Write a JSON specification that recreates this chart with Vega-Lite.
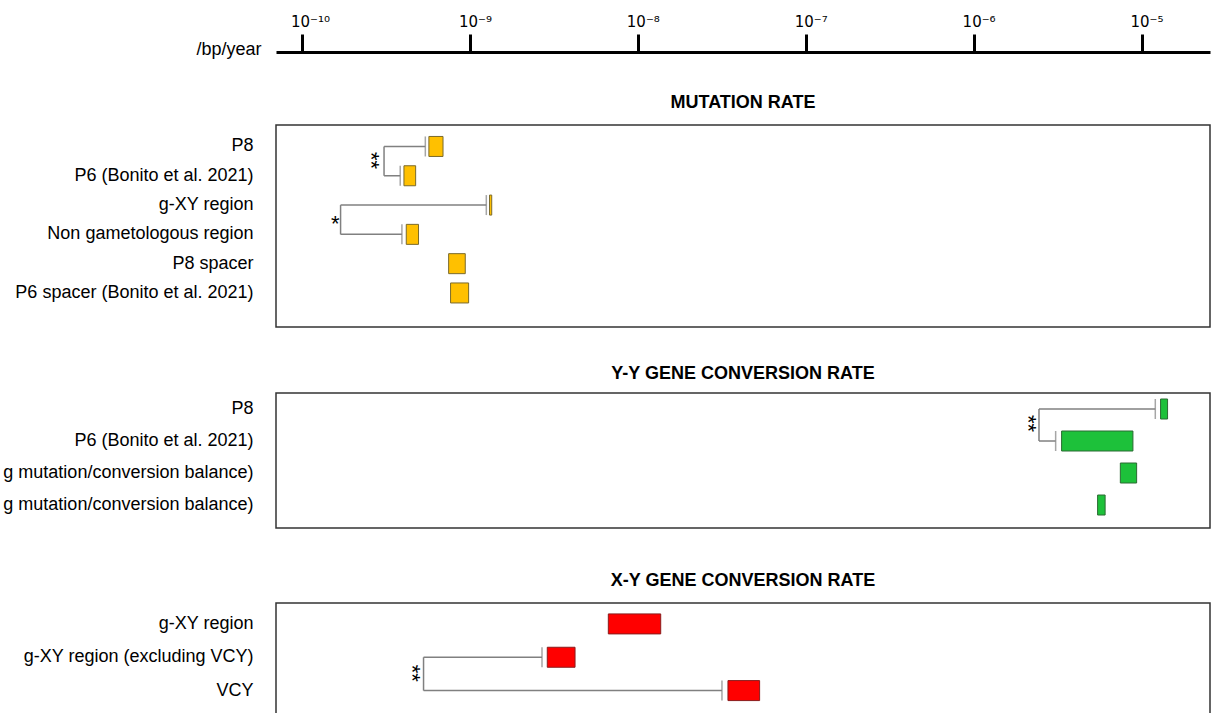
{
  "$schema": "https://vega.github.io/schema/vega-lite/v6.json",
  "autosize": {"type": "pad"},
  "padding": {"left": 2, "top": 14, "right": 0, "bottom": -16},
  "background": "white",
  "bounds": "flush",
  "spacing": 66,
  "config": {
    "font": "Liberation Sans",
    "view": {"stroke": "#333333", "strokeWidth": 1.5},
    "axisY": {"domain": false, "ticks": false, "tickSize": 0, "labelPadding": 23, "labelFontSize": 18, "labelColor": "black", "labelLimit": 500, "labelFont": "Liberation Sans", "grid": false},
    "title": {"fontSize": 18, "fontWeight": "bold", "font": "Liberation Sans", "color": "black", "anchor": "middle", "frame": "group", "baseline": "alphabetic"}
  },
  "datasets": {
    "decades": [{"rate": 1e-10}, {"rate": 1e-9}, {"rate": 1e-8}, {"rate": 1e-7}, {"rate": 1e-6}, {"rate": 1e-5}],
    "mut_bars": [
      {"label": "P8", "lo": 5.66e-10, "hi": 6.87e-10},
      {"label": "P6 (Bonito et al. 2021)", "lo": 4.02e-10, "hi": 4.72e-10},
      {"label": "g-XY region", "lo": 1.30e-9, "hi": 1.34e-9},
      {"label": "Non gametologous region", "lo": 4.15e-10, "hi": 4.91e-10},
      {"label": "P8 spacer", "lo": 7.42e-10, "hi": 9.32e-10},
      {"label": "P6 spacer (Bonito et al. 2021)", "lo": 7.62e-10, "hi": 9.76e-10}
    ],
    "mut_h": [
      {"label": "P8", "from": 3.06e-10, "to": 5.39e-10},
      {"label": "P6 (Bonito et al. 2021)", "from": 3.06e-10, "to": 3.82e-10},
      {"label": "g-XY region", "from": 1.686e-10, "to": 1.244e-9},
      {"label": "Non gametologous region", "from": 1.686e-10, "to": 3.91e-10}
    ],
    "mut_v": [
      {"a": "P8", "b": "P6 (Bonito et al. 2021)", "xv": 3.06e-10},
      {"a": "g-XY region", "b": "Non gametologous region", "xv": 1.686e-10}
    ],
    "mut_star": [
      {"label": "P8", "xv": 2.55e-10, "star": "**"},
      {"label": "g-XY region", "xv": 1.568e-10, "star": "*"}
    ],
    "yy_bars": [
      {"label": "P8", "lo": 1.29e-5, "hi": 1.42e-5},
      {"label": "P6 (Bonito et al. 2021)", "lo": 3.32e-6, "hi": 8.83e-6},
      {"label": "g mutation/conversion balance)", "lo": 7.43e-6, "hi": 9.29e-6},
      {"label": "g mutation/conversion balance)\u200b", "lo": 5.44e-6, "hi": 6.03e-6}
    ],
    "yy_h": [
      {"label": "P8", "from": 2.435e-6, "to": 1.2e-5},
      {"label": "P6 (Bonito et al. 2021)", "from": 2.435e-6, "to": 3.06e-6}
    ],
    "yy_v": [{"a": "P8", "b": "P6 (Bonito et al. 2021)", "xv": 2.435e-6}],
    "yy_star": [{"label": "P8", "xv": 2.08e-6, "star": "**"}],
    "xy_bars": [
      {"label": "g-XY region", "lo": 6.63e-9, "hi": 1.36e-8},
      {"label": "g-XY region (excluding VCY)", "lo": 2.87e-9, "hi": 4.20e-9},
      {"label": "VCY", "lo": 3.42e-8, "hi": 5.28e-8}
    ],
    "xy_h": [
      {"label": "g-XY region (excluding VCY)", "from": 5.26e-10, "to": 2.67e-9},
      {"label": "VCY", "from": 5.26e-10, "to": 3.15e-8}
    ],
    "xy_v": [{"a": "g-XY region (excluding VCY)", "b": "VCY", "xv": 5.26e-10}],
    "xy_star": [{"label": "g-XY region (excluding VCY)", "xv": 4.5e-10, "star": "**"}]
  },
  "vconcat": [
    {
      "width": 934,
      "height": 7,
      "view": {"stroke": null},
      "data": {"name": "decades"},
      "mark": {"type": "point", "opacity": 0},
      "encoding": {
        "x": {
          "field": "rate", "type": "quantitative",
          "scale": {"type": "log", "domain": [6.954e-11, 2.541e-5], "nice": false},
          "axis": {
            "orient": "top", "values": [1e-10, 1e-9, 1e-8, 1e-7, 1e-6, 1e-5],
            "domainWidth": 3, "domainColor": "black", "domainCap": "butt",
            "tickWidth": 3, "tickColor": "black", "tickSize": 18, "tickCap": "butt",
            "labelPadding": 5, "labelFontSize": 15, "labelFont": "DejaVu Sans", "labelColor": "black",
            "labelAlign": "left", "labelOffset": -12,
            "labelFlush": false, "labelOverlap": false, "grid": false,
            "labelExpr": "datum.value < 3e-10 ? '10⁻¹⁰' : datum.value < 3e-9 ? '10⁻⁹' : datum.value < 3e-8 ? '10⁻⁸' : datum.value < 3e-7 ? '10⁻⁷' : datum.value < 3e-6 ? '10⁻⁶' : '10⁻⁵'",
            "title": "/bp/year", "titleX": -15, "titleY": -3, "titleAlign": "right", "titleBaseline": "middle",
            "titleAngle": 0, "titleFontSize": 18, "titleFontWeight": "normal", "titleColor": "black", "titleFont": "Liberation Sans"
          }
        }
      }
    },
    {
      "width": 934,
      "height": 202,
      "title": {"text": "MUTATION RATE", "offset": 13},
      "layer": [
        {
          "data": {"name": "mut_h"},
          "mark": {"type": "rule", "color": "#808080", "strokeWidth": 1.5},
          "encoding": {
            "x": {"field": "from", "type": "quantitative", "scale": {"type": "log", "domain": [6.954e-11, 2.541e-5], "nice": false}, "axis": null},
            "x2": {"field": "to"},
            "y": {"field": "label", "type": "nominal", "title": null, "sort": null, "scale": {"type": "band", "domain": ["P8", "P6 (Bonito et al. 2021)", "g-XY region", "Non gametologous region", "P8 spacer", "P6 spacer (Bonito et al. 2021)"], "paddingInner": 0, "paddingOuter": 0.447, "align": 0.26}}
          }
        },
        {
          "data": {"name": "mut_h"},
          "mark": {"type": "tick", "orient": "vertical", "color": "#808080", "thickness": 1.5, "size": 20},
          "encoding": {
            "x": {"field": "to", "type": "quantitative", "axis": null},
            "y": {"field": "label", "type": "nominal", "title": null}
          }
        },
        {
          "data": {"name": "mut_v"},
          "mark": {"type": "rule", "color": "#808080", "strokeWidth": 1.5},
          "encoding": {
            "x": {"field": "xv", "type": "quantitative", "axis": null},
            "y": {"field": "a", "type": "nominal", "title": null},
            "y2": {"field": "b"}
          }
        },
        {
          "data": {"name": "mut_bars"},
          "mark": {"type": "bar", "height": 20, "color": "#FFC000", "stroke": "#7a6a2c", "strokeWidth": 1},
          "encoding": {
            "x": {"field": "lo", "type": "quantitative", "axis": null},
            "x2": {"field": "hi"},
            "y": {"field": "label", "type": "nominal", "title": null}
          }
        },
        {
          "data": {"name": "mut_star"},
          "transform": [{"filter": "datum.star == '**'"}],
          "mark": {"type": "text", "angle": 90, "fontSize": 22, "color": "black", "align": "center", "baseline": "middle", "yOffset": 14},
          "encoding": {
            "x": {"field": "xv", "type": "quantitative", "axis": null},
            "y": {"field": "label", "type": "nominal", "title": null},
            "text": {"field": "star"}
          }
        },
        {
          "data": {"name": "mut_star"},
          "transform": [{"filter": "datum.star == '*'"}],
          "mark": {"type": "text", "fontSize": 22, "color": "black", "align": "center", "baseline": "middle", "yOffset": 19},
          "encoding": {
            "x": {"field": "xv", "type": "quantitative", "axis": null},
            "y": {"field": "label", "type": "nominal", "title": null},
            "text": {"field": "star"}
          }
        }
      ]
    },
    {
      "bounds": "flush",
      "spacing": 75,
      "vconcat": [
        {
          "width": 934,
          "height": 135,
          "title": {"text": "Y-Y GENE CONVERSION RATE", "offset": 10.5},
          "layer": [
            {
              "data": {"name": "yy_h"},
              "mark": {"type": "rule", "color": "#808080", "strokeWidth": 1.5},
              "encoding": {
                "x": {"field": "from", "type": "quantitative", "scale": {"type": "log", "domain": [6.954e-11, 2.541e-5], "nice": false}, "axis": null},
                "x2": {"field": "to"},
                "y": {"field": "label", "type": "nominal", "title": null, "sort": null, "scale": {"type": "band", "domain": ["P8", "P6 (Bonito et al. 2021)", "g mutation/conversion balance)", "g mutation/conversion balance)\u200b"], "paddingInner": 0, "paddingOuter": 0.109, "align": 0}}
              }
            },
            {
              "data": {"name": "yy_h"},
              "mark": {"type": "tick", "orient": "vertical", "color": "#808080", "thickness": 1.5, "size": 20},
              "encoding": {
                "x": {"field": "to", "type": "quantitative", "axis": null},
                "y": {"field": "label", "type": "nominal", "title": null}
              }
            },
            {
              "data": {"name": "yy_v"},
              "mark": {"type": "rule", "color": "#808080", "strokeWidth": 1.5},
              "encoding": {
                "x": {"field": "xv", "type": "quantitative", "axis": null},
                "y": {"field": "a", "type": "nominal", "title": null},
                "y2": {"field": "b"}
              }
            },
            {
              "data": {"name": "yy_bars"},
              "mark": {"type": "bar", "height": 20, "color": "#1DC13A", "stroke": "#2b6a32", "strokeWidth": 1},
              "encoding": {
                "x": {"field": "lo", "type": "quantitative", "axis": null},
                "x2": {"field": "hi"},
                "y": {"field": "label", "type": "nominal", "title": null}
              }
            },
            {
              "data": {"name": "yy_star"},
              "mark": {"type": "text", "angle": 90, "fontSize": 22, "color": "black", "align": "center", "baseline": "middle", "yOffset": 14.5},
              "encoding": {
                "x": {"field": "xv", "type": "quantitative", "axis": null},
                "y": {"field": "label", "type": "nominal", "title": null},
                "text": {"field": "star"}
              }
            }
          ]
        },
        {
          "width": 934,
          "height": 125,
          "title": {"text": "X-Y GENE CONVERSION RATE", "offset": 13},
          "layer": [
            {
              "data": {"name": "xy_h"},
              "mark": {"type": "rule", "color": "#808080", "strokeWidth": 1.5},
              "encoding": {
                "x": {"field": "from", "type": "quantitative", "scale": {"type": "log", "domain": [6.954e-11, 2.541e-5], "nice": false}, "axis": null},
                "x2": {"field": "to"},
                "y": {"field": "label", "type": "nominal", "title": null, "sort": null, "scale": {"type": "band", "domain": ["g-XY region", "g-XY region (excluding VCY)", "VCY"], "paddingInner": 0, "paddingOuter": 0.375, "align": 0.17}}
              }
            },
            {
              "data": {"name": "xy_h"},
              "mark": {"type": "tick", "orient": "vertical", "color": "#808080", "thickness": 1.5, "size": 20},
              "encoding": {
                "x": {"field": "to", "type": "quantitative", "axis": null},
                "y": {"field": "label", "type": "nominal", "title": null}
              }
            },
            {
              "data": {"name": "xy_v"},
              "mark": {"type": "rule", "color": "#808080", "strokeWidth": 1.5},
              "encoding": {
                "x": {"field": "xv", "type": "quantitative", "axis": null},
                "y": {"field": "a", "type": "nominal", "title": null},
                "y2": {"field": "b"}
              }
            },
            {
              "data": {"name": "xy_bars"},
              "mark": {"type": "bar", "height": 20, "color": "#FF0000", "stroke": "#8a1c1c", "strokeWidth": 1},
              "encoding": {
                "x": {"field": "lo", "type": "quantitative", "axis": null},
                "x2": {"field": "hi"},
                "y": {"field": "label", "type": "nominal", "title": null}
              }
            },
            {
              "data": {"name": "xy_star"},
              "mark": {"type": "text", "angle": 90, "fontSize": 22, "color": "black", "align": "center", "baseline": "middle", "yOffset": 16},
              "encoding": {
                "x": {"field": "xv", "type": "quantitative", "axis": null},
                "y": {"field": "label", "type": "nominal", "title": null},
                "text": {"field": "star"}
              }
            }
          ]
        }
      ]
    }
  ]
}
